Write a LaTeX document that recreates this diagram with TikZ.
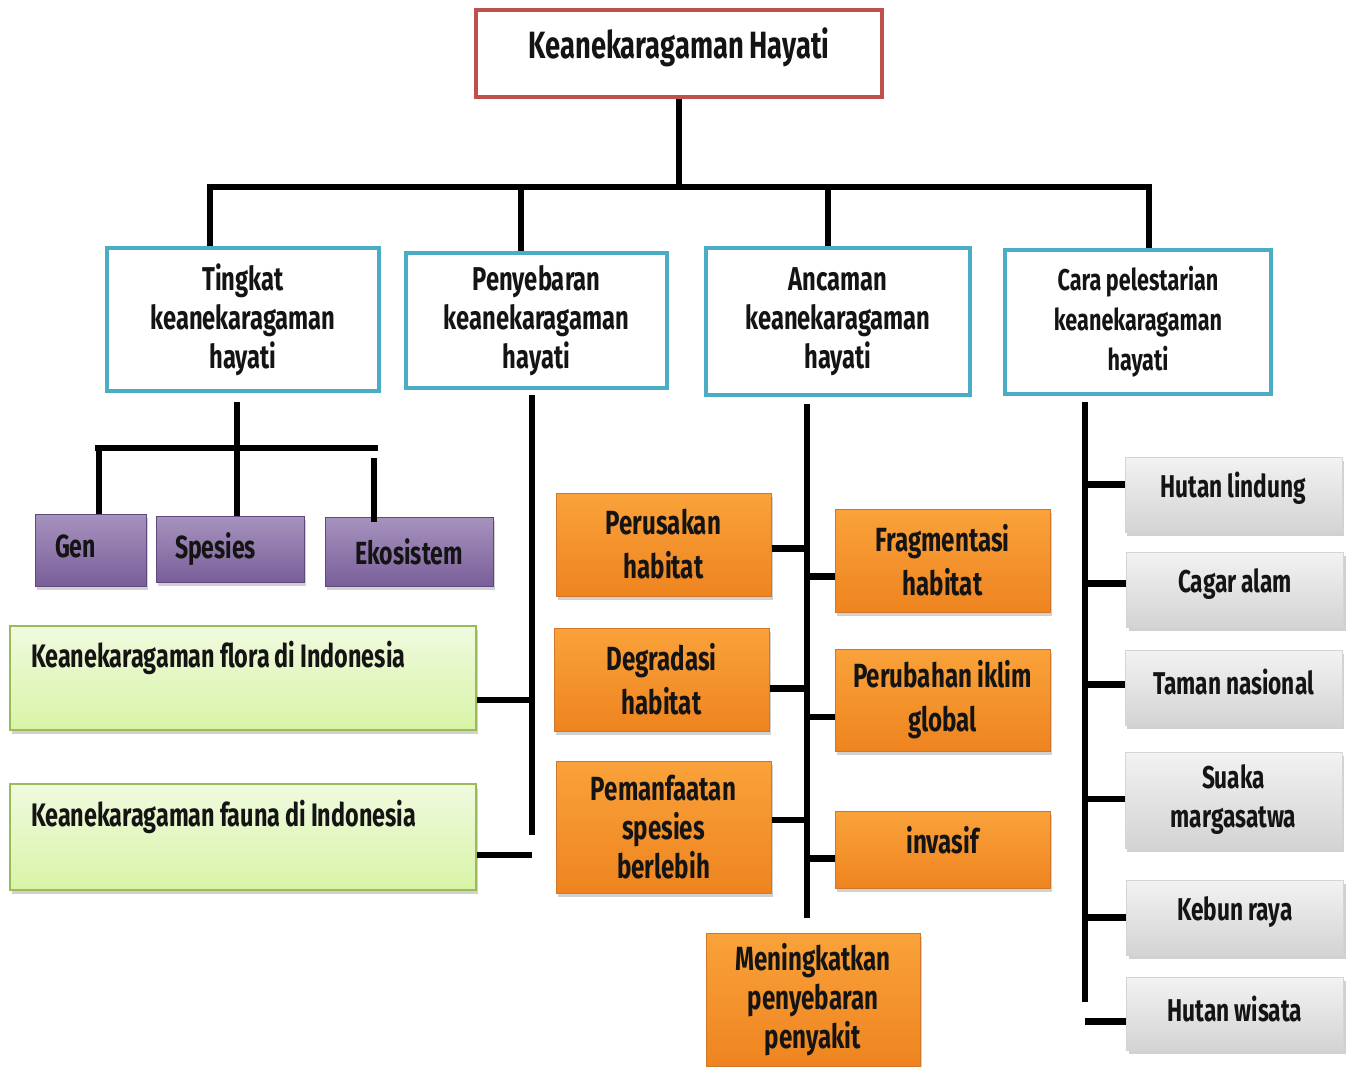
\documentclass[tikz,border=0pt]{standalone}
\usepackage{fontspec}
\setmainfont{Fira Sans}[FakeStretch=0.72, WordSpace=0.9]
\usetikzlibrary{shadows,positioning}
\definecolor{RootRed}{HTML}{C0504D}
\definecolor{CatBlue}{HTML}{4BACC6}
\definecolor{GenPurple}{HTML}{8064A2}
\definecolor{GenEdge}{HTML}{5F497A}
\definecolor{IndoGreen}{HTML}{9BBB59}
\definecolor{IndoTop}{HTML}{F0FADF}
\definecolor{IndoBottom}{HTML}{D8F4A6}
\definecolor{ThreatTop}{HTML}{FAA23A}
\definecolor{ThreatBottom}{HTML}{EE8420}
\definecolor{ThreatEdge}{HTML}{D0782A}
\definecolor{SaveGray}{HTML}{D4D4D4}
\definecolor{InkBlack}{HTML}{141414}
\newcommand{\liftup}[2]{\raisebox{#1}[\height][\depth]{#2}}

\begin{document}
\begin{tikzpicture}[
  x=1pt, y=-1pt,
  every node/.style={text=InkBlack, inner sep=0pt},
  shade/.style={drop shadow={shadow xshift=2pt, shadow yshift=-4pt, opacity=0.3, fill=black!60}},
  rootbox/.style={rectangle, draw=RootRed, line width=4pt, fill=white, align=center, font=\fontsize{38}{42}\selectfont\bfseries},
  catbox/.style={rectangle, draw=CatBlue, line width=3.5pt, fill=white, align=center, font=\fontsize{33}{39}\selectfont\bfseries},
  genbox/.style={rectangle, shade, draw=GenEdge, line width=1pt, top color=GenPurple!70!white, bottom color=GenPurple!95!black, font=\fontsize{32}{36}\selectfont\bfseries},
  indobox/.style={rectangle, shade, draw=IndoGreen, line width=2pt, top color=IndoTop, bottom color=IndoBottom, minimum width=466pt, text width=424pt, align=flush left, font=\fontsize{32.5}{42}\selectfont\bfseries},
  threatbox/.style={rectangle, shade, draw=ThreatEdge, line width=1pt, top color=ThreatTop, bottom color=ThreatBottom, minimum width=215pt, align=center, font=\fontsize{33.5}{44}\selectfont\bfseries},
  savebox/.style={rectangle, shade, draw=SaveGray, line width=1pt, top color=black!5, bottom color=black!17, minimum width=217pt, align=center, font=\fontsize{31.5}{39}\selectfont\bfseries},
  link/.style={line width=6.5pt, black}
]
\useasboundingbox (0,0) rectangle (1351,1066);

% Root
\node[rootbox, minimum width=406pt, minimum height=87pt] (root) at (679,53.5) {\liftup{6pt}{Keanekaragaman Hayati}};

% Categories
\node[catbox, minimum width=272pt, minimum height=143pt] (tingkat) at (243,319.5) {Tingkat\\keanekaragaman\\hayati};
\node[catbox, minimum width=261pt, minimum height=135pt] (sebaran) at (536.5,320.5) {Penyebaran\\keanekaragaman\\hayati};
\node[catbox, minimum width=264pt, minimum height=147pt] (ancaman) at (838,321.5) {Ancaman\\keanekaragaman\\hayati};
\node[catbox, minimum width=266pt, minimum height=144pt, font=\fontsize{30}{40}\selectfont\bfseries] (lestari) at (1138,322) {Cara pelestarian\\keanekaragaman\\hayati};

% Tingkat
\node[genbox, minimum width=111pt, minimum height=72pt, text width=71pt, align=left] (gen) at (90.5,550) {\liftup{4pt}{Gen}};
\node[genbox, minimum width=148pt, minimum height=66pt, text width=110pt, align=left] (spesies) at (230,549) {Spesies};
\node[genbox, minimum width=168pt, minimum height=69pt, align=center] (ekosistem) at (409,551.5) {Ekosistem};

% Penyebaran
\node[indobox, minimum height=104pt] (flora) at (243,678) {\liftup{20pt}{Keanekaragaman flora di Indonesia}};
\node[indobox, minimum height=106pt] (fauna) at (243,837) {\liftup{20pt}{Keanekaragaman fauna di Indonesia}};

% Ancaman
\node[threatbox, minimum height=103pt] (rusak) at (663.5,544.5) {Perusakan\\habitat};
\node[threatbox, minimum height=103pt] (degradasi) at (661.5,679.5) {Degradasi\\habitat};
\node[threatbox, minimum height=132pt, font=\fontsize{33.5}{39}\selectfont\bfseries] (manfaat) at (663.5,827) {Pemanfaatan\\spesies\\berlebih};
\node[threatbox, minimum height=103pt] (fragmen) at (942.5,560.5) {Fragmentasi\\habitat};
\node[threatbox, minimum height=102pt] (iklim) at (942.5,700) {Perubahan iklim\\global};
\node[threatbox, minimum height=77pt] (invasif) at (942.5,849.5) {\liftup{9pt}{invasif}};
\node[threatbox, minimum width=214pt, minimum height=133pt, font=\fontsize{33.5}{39}\selectfont\bfseries] (penyakit) at (813,999.5) {Meningkatkan\\penyebaran\\penyakit};

% Pelestarian
\node[savebox, minimum height=75pt] (lindung) at (1233.5,494.5) {\liftup{6pt}{Hutan lindung}};
\node[savebox, minimum height=75pt] (cagar) at (1235,589.5) {\liftup{5pt}{Cagar alam}};
\node[savebox, minimum height=75pt] (taman) at (1233.5,687.5) {\liftup{6pt}{Taman nasional}};
\node[savebox, minimum height=96pt] (suaka) at (1233.5,800) {Suaka\\margasatwa};
\node[savebox, minimum height=75pt] (kebun) at (1235,917.5) {\liftup{5pt}{Kebun raya}};
\node[savebox, minimum height=73pt] (wisata) at (1235,1013.5) {\liftup{5pt}{Hutan wisata}};

% Bus from root
\coordinate (busL) at (210,187);
\coordinate (busR) at (1149,187);
\coordinate (drop2) at (521,187);
\coordinate (drop3) at (828,187);
\draw[link] (root.south) -- (root.south |- busL);
\draw[link, line cap=rect] (busL) -- (busR);
\draw[link] (busL) -- (busL |- tingkat.north);
\draw[link] (drop2) -- (drop2 |- sebaran.north);
\draw[link] (drop3) -- (drop3 |- ancaman.north);
\draw[link] (busR) -- (busR |- lestari.north);

% Tingkat branches
\coordinate (tingkatBus) at (237,448);
\coordinate (genTop) at (99,448);
\coordinate (ekoTop) at (374,458);
\draw[link] (237,402) -- (tingkatBus |- spesies.north);
\draw[link] (95,448) -- (378,448);
\draw[link] (genTop) -- (genTop |- gen.north);
\draw[link] (ekoTop) -- (374,522);

% Penyebaran trunk
\coordinate (trunkB) at (532,395);
\coordinate (trunkBend) at (532,835);
\draw[link] (trunkB) -- (trunkBend);
\draw[link] ([yshift=-22pt]flora.east) -- ([yshift=-22pt]flora.east -| trunkB);
\draw[link] ([yshift=-18pt]fauna.east) -- ([yshift=-18pt]fauna.east -| trunkB);

% Ancaman trunk
\coordinate (trunkC) at (807,404);
\coordinate (trunkCend) at (807,918);
\draw[link] (trunkC) -- (trunkCend);
\draw[link] ([yshift=-4pt]rusak.east) -- ([yshift=-4pt]rusak.east -| trunkC);
\draw[link] ([yshift=-9pt]degradasi.east) -- ([yshift=-9pt]degradasi.east -| trunkC);
\draw[link] ([yshift=7pt]manfaat.east) -- ([yshift=7pt]manfaat.east -| trunkC);
\draw[link] ([yshift=-16pt]fragmen.west) -- ([yshift=-16pt]fragmen.west -| trunkC);
\draw[link] ([yshift=-17pt]iklim.west) -- ([yshift=-17pt]iklim.west -| trunkC);
\draw[link] ([yshift=-9pt]invasif.west) -- ([yshift=-9pt]invasif.west -| trunkC);

% Pelestarian trunk
\coordinate (trunkD) at (1085,402);
\coordinate (trunkDend) at (1085,1002);
\draw[link] (trunkD) -- (trunkDend);
\foreach \n/\dy in {lindung/10,cagar/6,taman/3,suaka/1,kebun/0,wisata/-8}
  \draw[link] ([yshift=\dy pt]\n.west) -- ([yshift=\dy pt]\n.west -| trunkD);

\end{tikzpicture}
\end{document}
